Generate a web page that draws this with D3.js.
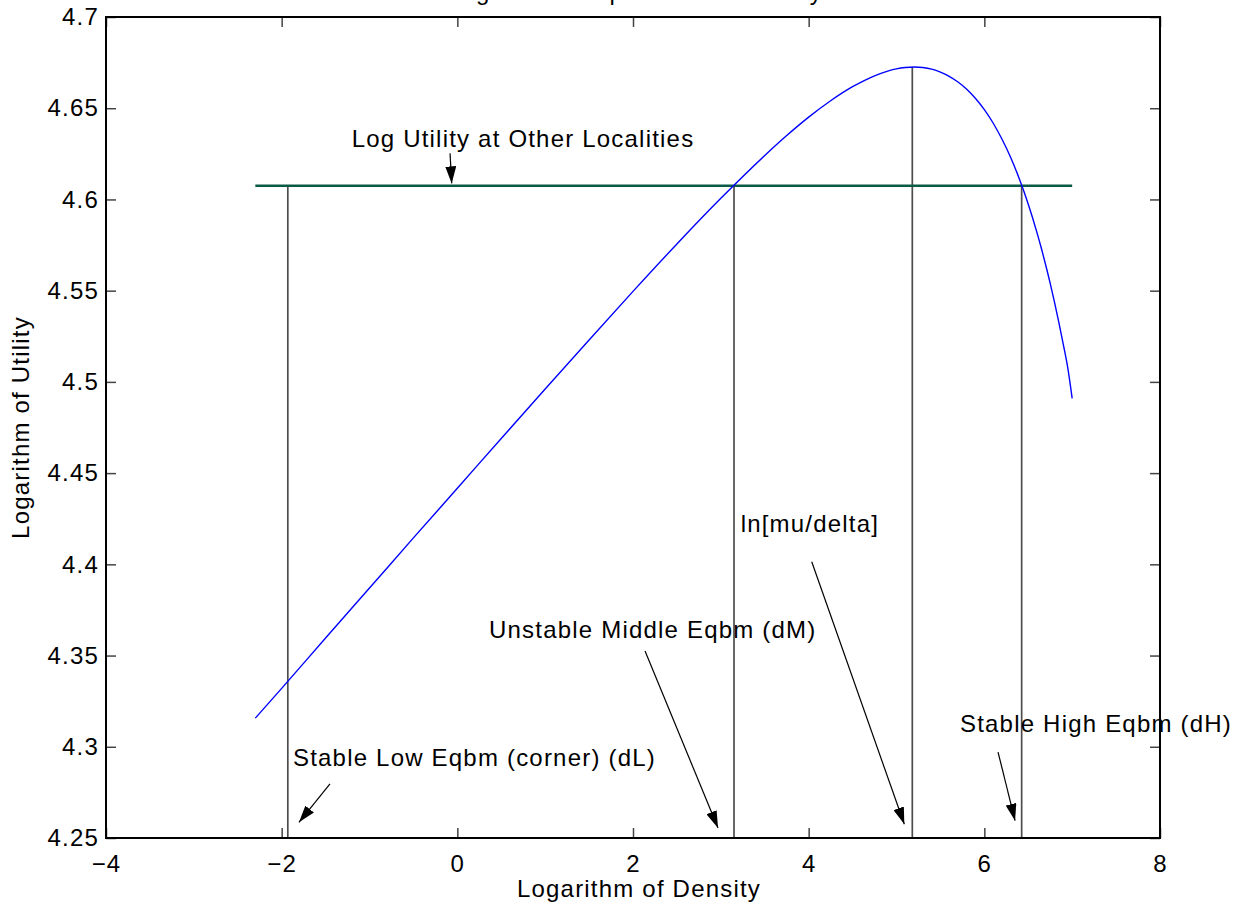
<!DOCTYPE html>
<html>
<head>
<meta charset="utf-8">
<script src="https://cdn.jsdelivr.net/npm/d3@7"></script>
<style>
  body { margin: 0; background: #fff; }
  text { font-family: "Liberation Sans", Arial, Helvetica, sans-serif; }
</style>
</head>
<body>
<div id="chart"></div>
<script>
// values
const densityX = [-2.3, -2.0, -1.5, -1.0, -0.5, 0, 0.5, 1.0, 1.5, 2.0, 2.5, 3.0, 3.5, 3.75, 4.0, 4.25,
                  4.5, 4.65, 4.8, 5.0, 5.1, 5.2, 5.3, 5.4, 5.5, 5.6, 5.7, 5.8, 5.9, 6.0, 6.1, 6.2, 6.3,
                  6.4, 6.45, 6.5, 6.55, 6.6, 6.65, 6.7, 6.75, 6.8, 6.85, 6.9, 6.95, 7.0];
const utilityY = [4.3157, 4.332, 4.3596, 4.387, 4.4145, 4.4417, 4.469, 4.4961, 4.523, 4.5496, 4.5756, 4.6006, 4.6241, 4.635, 4.6451, 4.6541,
                  4.6618, 4.6656, 4.6687, 4.6716, 4.6723, 4.6726, 4.6723, 4.6714, 4.6698, 4.6675, 4.6644, 4.6604, 4.6553, 4.6492, 4.6419, 4.6331, 4.623,
                  4.6111, 4.6045, 4.5974, 4.5898, 4.5817, 4.5731, 4.5638, 4.554, 4.5434, 4.5322, 4.5203, 4.5077, 4.491];

const otherUtility = 4.6075;          // log utility at other localities
const otherRange = [-2.3, 7.0];

// vertical guides: dL, dM, ln[mu/delta], dH
const guideX = [-1.93, 3.15, 5.18, 6.425];
const guideTop = [4.6075, 4.6075, 4.6724, 4.6075];

const xTicks = [-4, -2, 0, 2, 4, 6, 8];
const yTicks = [4.25, 4.3, 4.35, 4.4, 4.45, 4.5, 4.55, 4.6, 4.65, 4.7];

const noteLabels = ["Log Utility at Other Localities", "ln[mu/delta]", "Unstable Middle Eqbm (dM)",
                    "Stable High Eqbm (dH)", "Stable Low Eqbm (corner) (dL)"];
const noteAt = [[-1.203, 4.6289], [3.226, 4.4179], [0.361, 4.3596], [5.723, 4.3081], [-1.871, 4.2895]];
const arrowFrom = [[-0.083, 4.6253], [4.035, 4.4014], [2.137, 4.3525], [6.156, 4.2971], [-1.450, 4.2796]];
const arrowTo = [[-0.064, 4.6088], [5.089, 4.2575], [2.968, 4.2555], [6.35, 4.2595], [-1.803, 4.2586]];

const w = 1246, h = 915;
const margin = {left: 106, right: 86, top: 17, bottom: 77};

const svg = d3.select('#chart')
  .append('svg')
  .attr('width', w)
  .attr('height', h)
  .style('background-color', '#fff');

const xScale = d3.scaleLinear().domain([-4, 8]).range([margin.left, w - margin.right]);
const yScale = d3.scaleLinear().domain([4.25, 4.7]).range([h - margin.bottom, margin.top]);

const fontSize = '24px', spacing = '1.2px';

// title (mostly off the page, as in the picture)
svg.append('text')
  .attr('x', (xScale(-4) + xScale(8)) / 2)
  .attr('y', 0)
  .attr('text-anchor', 'middle')
  .style('font-size', fontSize)
  .style('letter-spacing', spacing)
  .text('Regional Comparison of Density');

// axes with inward ticks
const xAxis = d3.axisBottom(xScale).tickValues(xTicks).tickSize(-10).tickPadding(17)
  .tickFormat(d => d < 0 ? '\u2212' + Math.abs(d) : d);
const yAxis = d3.axisLeft(yScale).tickValues(yTicks).tickSize(-10).tickPadding(7)
  .tickFormat(d => String(+d.toFixed(2)));

const gx = svg.append('g').attr('transform', 'translate(0,' + (h - margin.bottom) + ')').call(xAxis);
const gy = svg.append('g').attr('transform', 'translate(' + margin.left + ',0)').call(yAxis);
const gt = svg.append('g').attr('transform', 'translate(0,' + margin.top + ')')
  .call(d3.axisTop(xScale).tickValues(xTicks).tickSize(-10).tickFormat(''));
const gr = svg.append('g').attr('transform', 'translate(' + (w - margin.right) + ',0)')
  .call(d3.axisRight(yScale).tickValues(yTicks).tickSize(-10).tickFormat(''));

[gx, gy, gt, gr].forEach(g => {
  g.select('.domain').remove();
  g.selectAll('.tick line').attr('stroke', '#444').attr('stroke-width', 1.5);
  g.selectAll('.tick text')
    .attr('fill', '#000')
    .style('font-size', fontSize)
    .style('letter-spacing', spacing)
    .style('font-family', '"Liberation Sans", Arial, Helvetica, sans-serif');
});

// vertical guides
svg.append('g').selectAll('line')
  .data(guideX)
  .enter()
  .append('line')
  .attr('x1', d => xScale(d))
  .attr('x2', d => xScale(d))
  .attr('y1', yScale(4.25))
  .attr('y2', (d, i) => yScale(guideTop[i]))
  .attr('stroke', '#4d4d4d')
  .attr('stroke-width', 1.7);

// other localities line
svg.append('line')
  .attr('x1', xScale(otherRange[0]))
  .attr('x2', xScale(otherRange[1]))
  .attr('y1', yScale(otherUtility))
  .attr('y2', yScale(otherUtility))
  .attr('stroke', '#0b5a46')
  .attr('stroke-width', 2.4);

// utility curve
const line = d3.line()
  .x((d, i) => xScale(densityX[i]))
  .y(d => yScale(d))
  .curve(d3.curveMonotoneX);

svg.append('path')
  .datum(utilityY)
  .attr('d', line)
  .attr('fill', 'none')
  .attr('stroke', '#0000ff')
  .attr('stroke-width', 1.4);

// box
svg.append('rect')
  .attr('x', margin.left)
  .attr('y', margin.top)
  .attr('width', w - margin.left - margin.right)
  .attr('height', h - margin.top - margin.bottom)
  .attr('fill', 'none')
  .attr('stroke', '#000')
  .attr('stroke-width', 2);

// arrow heads
svg.append('defs').append('marker')
  .attr('id', 'head')
  .attr('viewBox', '0 0 17 11')
  .attr('refX', 17)
  .attr('refY', 5.5)
  .attr('markerWidth', 17)
  .attr('markerHeight', 11)
  .attr('markerUnits', 'userSpaceOnUse')
  .attr('orient', 'auto')
  .append('path')
  .attr('d', 'M0,0 L17,5.5 L0,11 Z')
  .attr('fill', '#000');

svg.append('g').selectAll('line')
  .data(arrowFrom)
  .enter()
  .append('line')
  .attr('x1', d => xScale(d[0]))
  .attr('y1', d => yScale(d[1]))
  .attr('x2', (d, i) => xScale(arrowTo[i][0]))
  .attr('y2', (d, i) => yScale(arrowTo[i][1]))
  .attr('stroke', '#000')
  .attr('stroke-width', 1.2)
  .attr('marker-end', 'url(#head)');

svg.append('g').selectAll('text')
  .data(noteLabels)
  .enter()
  .append('text')
  .attr('x', (d, i) => xScale(noteAt[i][0]))
  .attr('y', (d, i) => yScale(noteAt[i][1]))
  .style('font-size', fontSize)
  .style('letter-spacing', spacing)
  .text(d => d);

// axis labels
svg.append('text')
  .attr('x', (xScale(-4) + xScale(8)) / 2 + 6)
  .attr('y', 897)
  .attr('text-anchor', 'middle')
  .style('font-size', fontSize)
  .style('letter-spacing', spacing)
  .text('Logarithm of Density');

svg.append('text')
  .attr('transform', 'translate(29,' + (yScale(4.25) + yScale(4.7)) / 2 + ') rotate(-90)')
  .attr('text-anchor', 'middle')
  .style('font-size', fontSize)
  .style('letter-spacing', spacing)
  .text('Logarithm of Utility');
</script>
</body>
</html>
